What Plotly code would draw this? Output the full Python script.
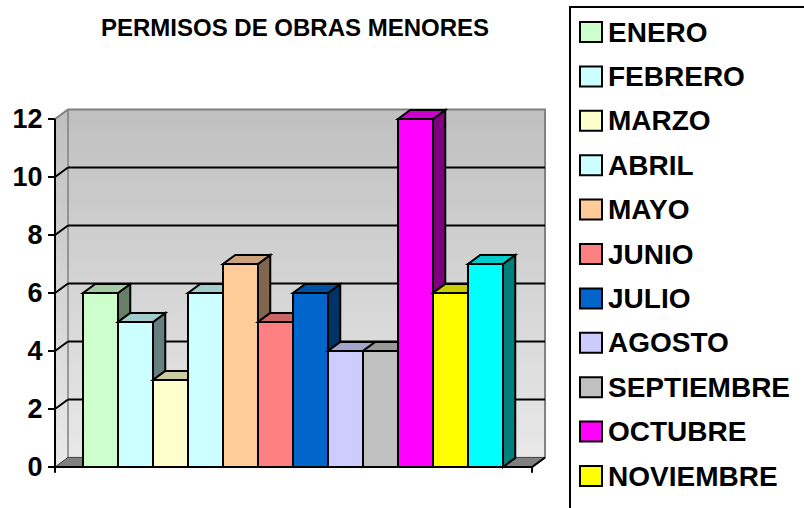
import plotly.graph_objects as go

# ---------------- data ----------------
MONTHS = ["ENERO", "FEBRERO", "MARZO", "ABRIL", "MAYO", "JUNIO", "JULIO",
          "AGOSTO", "SEPTIEMBRE", "OCTUBRE", "NOVIEMBRE", "DICIEMBRE"]
PERMITS = [6, 5, 3, 6, 7, 5, 6, 4, 4, 12, 6, 7]
COLORS = ["#CCFFCC", "#CCFFFF", "#FFFFCC", "#CCFFFF", "#FFCC99", "#FF8080",
          "#0066CC", "#CCCCFF", "#C0C0C0", "#FF00FF", "#FFFF00", "#00FFFF"]
Y_TICKS = [0, 2, 4, 6, 8, 10, 12]
TITLE = "PERMISOS DE OBRAS MENORES"

# ---------------- geometry / style ----------------
OFF = 0                          # page body margin is removed below
W, H = 804 - OFF, 508 - OFF
ML, MR, MT, MB = 45 - OFF, 254, 105 - OFF, 33
X_RANGE = [-1.586, 12.843]
Y_RANGE = [-0.276, 12.483]
XF0, XF1 = -1.3, 12.33          # front floor edges (data units)
WDX, WDY = 0.371, 0.33          # wall depth offset
BDX, BDY = 0.35, 0.31           # bar depth offset
YMAX = Y_TICKS[-1]
FONT = "Liberation Sans, Arial, sans-serif"


def xp(px):
    return (px - OFF - ML) / (W - ML - MR)


def yp(py):
    return (H - MB - (py - OFF)) / (H - MT - MB)


def shade(hexc, f):
    r, g, b = int(hexc[1:3], 16), int(hexc[3:5], 16), int(hexc[5:7], 16)
    return "#%02X%02X%02X" % (int(r * f), int(g * f), int(b * f))


def mix(c1, c2, t):
    a = [int(c1[i:i + 2], 16) for i in (1, 3, 5)]
    b = [int(c2[i:i + 2], 16) for i in (1, 3, 5)]
    return "#%02X%02X%02X" % tuple(int(round(a[k] + (b[k] - a[k]) * t)) for k in range(3))


def poly(pts):
    return "M " + " L ".join(f"{x},{y}" for x, y in pts) + " Z"


shapes = []
WALL_BOT, WALL_TOP = "#E8E8E8", "#C0C0C0"

# back wall gradient strips
N = 48
bx0, bx1 = XF0 + WDX, XF1 + WDX
yb0, yb1 = WDY, YMAX + WDY
for k in range(N):
    y0 = yb0 + (yb1 - yb0) * k / N
    y1 = yb0 + (yb1 - yb0) * (k + 1) / N + 0.02
    shapes.append(dict(type="rect", xref="x", yref="y", x0=bx0, x1=bx1, y0=y0,
                       y1=min(y1, yb1), fillcolor=mix(WALL_BOT, WALL_TOP, k / (N - 1)),
                       line=dict(width=0), layer="below"))
# side wall gradient strips
for k in range(N):
    f0 = YMAX * k / N
    f1 = min(YMAX * (k + 1) / N + 0.02, YMAX)
    shapes.append(dict(type="path", xref="x", yref="y",
                       path=poly([(XF0, f0), (XF0, f1), (XF0 + WDX, f1 + WDY), (XF0 + WDX, f0 + WDY)]),
                       fillcolor=mix(WALL_BOT, WALL_TOP, k / (N - 1)),
                       line=dict(width=0), layer="below"))
# wall borders
shapes.append(dict(type="path", xref="x", yref="y",
                   path="M %f,%f L %f,%f L %f,%f L %f,%f L %f,%f" % (
                       XF0, YMAX, bx0, yb1, bx1, yb1, bx1, yb0, XF1, 0),
                   line=dict(color="#808080", width=2), layer="below"))
shapes.append(dict(type="line", xref="x", yref="y", x0=bx0, x1=bx0, y0=yb0, y1=yb1,
                   line=dict(color="#808080", width=1.5), layer="below"))
# gridlines (back wall + side wall)
for v in Y_TICKS[1:-1]:
    shapes.append(dict(type="line", xref="x", yref="y", x0=bx0, x1=bx1, y0=v + WDY, y1=v + WDY,
                       line=dict(color="black", width=2), layer="below"))
    shapes.append(dict(type="line", xref="x", yref="y", x0=XF0, x1=bx0, y0=v, y1=v + WDY,
                       line=dict(color="black", width=2), layer="below"))
# floor
shapes.append(dict(type="path", xref="x", yref="y",
                   path=poly([(XF0, 0), (XF1, 0), (XF1 + WDX, WDY), (XF0 + WDX, WDY)]),
                   fillcolor="#808080", line=dict(color="#404040", width=1), layer="below"))

# bar top and side faces (3D effect), clipped against the next bar
n = len(PERMITS)
for i, (h, c) in enumerate(zip(PERMITS, COLORS)):
    l, r = i - 0.5, i + 0.5
    nxt = PERMITS[i + 1] if i + 1 < n else None
    if nxt is not None and nxt < h:
        shapes.append(dict(type="path", xref="x", yref="y",
                           path=poly([(r, nxt), (r, h), (r + BDX, h + BDY), (r + BDX, nxt + BDY)]),
                           fillcolor=shade(c, 0.5), line=dict(color="black", width=2), layer="above"))
    elif nxt is None:
        shapes.append(dict(type="path", xref="x", yref="y",
                           path=poly([(r, 0), (r, h), (r + BDX, h + BDY), (r + BDX, BDY)]),
                           fillcolor=shade(c, 0.5), line=dict(color="black", width=2), layer="above"))
    if nxt is not None and nxt > h:
        top = poly([(l, h), (r, h), (r, h + BDY), (l + BDX, h + BDY)])
    else:
        top = poly([(l, h), (r, h), (r + BDX, h + BDY), (l + BDX, h + BDY)])
    shapes.append(dict(type="path", xref="x", yref="y", path=top,
                       fillcolor=shade(c, 0.8), line=dict(color="black", width=2), layer="above"))

# front edges of the chart
shapes.append(dict(type="line", xref="x", yref="y", x0=XF0, x1=XF0, y0=0, y1=YMAX,
                   line=dict(color="black", width=2), layer="above"))
shapes.append(dict(type="line", xref="x", yref="y", x0=XF0, x1=XF1, y0=0, y1=0,
                   line=dict(color="black", width=2), layer="above"))
shapes.append(dict(type="line", xref="x", yref="y", x0=XF1, x1=XF1 + WDX, y0=0, y1=WDY,
                   line=dict(color="black", width=2), layer="above"))
for xe in (XF0, XF1):
    shapes.append(dict(type="line", xref="x", yref="y", x0=xe, x1=xe, y0=0, y1=-0.2,
                       line=dict(color="black", width=2), layer="above"))

# ---------------- manual legend (runs off the bottom/right edge as in the source) ----------------
annotations = []
shapes.append(dict(type="rect", xref="paper", yref="paper",
                   x0=xp(570), x1=xp(830), y0=yp(540), y1=yp(7),
                   fillcolor="white", line=dict(color="black", width=2), layer="above"))
for i, (m, c) in enumerate(zip(MONTHS, COLORS)):
    cy = 32 + 44.4 * i
    if cy - 12 > 508:
        continue  # row lies entirely below the visible area
    shapes.append(dict(type="rect", xref="paper", yref="paper",
                       x0=xp(580), x1=xp(602), y0=yp(cy + 10), y1=yp(cy - 10),
                       fillcolor=c, line=dict(color="black", width=2), layer="above"))
    annotations.append(dict(xref="paper", yref="paper", x=xp(606), y=yp(cy),
                            xanchor="left", yanchor="middle", showarrow=False,
                            text="<b>%s</b>" % m,
                            font=dict(family=FONT, size=28, color="black")))

annotations.append(dict(xref="paper", yref="paper", x=xp(295), y=yp(28),
                        xanchor="center", yanchor="middle", showarrow=False,
                        text="<b>%s</b>" % TITLE,
                        font=dict(family=FONT, size=24, color="black")))

fig = go.Figure()
fig.add_trace(go.Bar(x=list(range(n)), y=PERMITS, width=1,
                     marker=dict(color=COLORS, line=dict(color="black", width=2)),
                     hoverinfo="skip", showlegend=False))

fig.update_layout(
    template="none",
    width=W, height=H,
    margin=dict(l=ML, r=MR, t=MT, b=MB, pad=0),
    paper_bgcolor="white", plot_bgcolor="rgba(0,0,0,0)",
    showlegend=False,
    shapes=shapes, annotations=annotations,
    font=dict(family=FONT, color="black"),
    xaxis=dict(range=X_RANGE, showgrid=False, zeroline=False, showline=False,
               showticklabels=False, ticks="", automargin=False, fixedrange=True),
    yaxis=dict(range=Y_RANGE, showgrid=False, zeroline=False, showline=False,
               tickvals=Y_TICKS, ticktext=["<b>%d</b>" % v for v in Y_TICKS],
               ticks="outside", ticklen=7, tickwidth=2, tickcolor="black",
               tickfont=dict(family=FONT, size=27, color="black"),
               anchor="free", position=xp(55), automargin=False, fixedrange=True),
)

fig.write_html("out.html", config={"displayModeBar": False},
               post_script="document.body.style.margin='0px';document.body.style.overflow='hidden';")
